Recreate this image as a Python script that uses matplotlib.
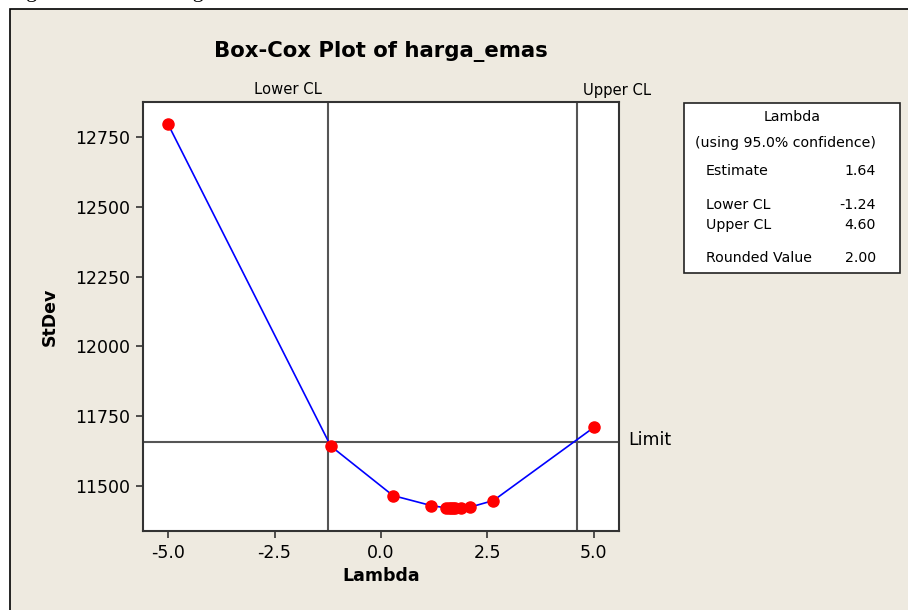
import numpy as np
import matplotlib
matplotlib.use("Agg")
import matplotlib.pyplot as plt
from matplotlib.patches import Rectangle

plt.rcParams['font.family'] = ['DejaVu Sans']

# Box-Cox search points (lambda, StDev)
lambdas = [-5.0, -1.18, 0.28, 1.18, 1.52, 1.60, 1.64, 1.68, 1.74, 1.87, 2.08, 2.64, 5.0]
stdevs = [12795, 11643, 11466, 11430, 11422, 11421, 11420, 11420, 11421, 11422, 11424, 11448, 11710]

lower_cl = -1.24
upper_cl = 4.60
limit = 11657

x_ticks = [-5.0, -2.5, 0.0, 2.5, 5.0]
y_ticks = [11500, 11750, 12000, 12250, 12500, 12750]

table_rows = [("Estimate", "1.64"), ("Lower CL", "-1.24"), ("Upper CL", "4.60"),
              ("Rounded Value", "2.00")]

W, H = 908, 610
BG = '#EEEAE0'


def fx(x):
    return x / W


def fy(y):
    return 1 - y / H


fig = plt.figure(figsize=(W / 100, H / 100), dpi=100, facecolor='white')

# outer panel of the Minitab graph window
fig.patches.append(Rectangle((fx(9.5), -0.1), 1.1, fy(8.5) + 0.1, transform=fig.transFigure,
                             facecolor=BG, edgecolor='black', lw=1.2, zorder=-2))
# cut off line of document text above the graph
fig.text(fx(-6), fy(-3), "Diagram Box-Cox harga emas.", family='Liberation Serif',
         fontsize=16, va='baseline', ha='left', zorder=-1)

ax = fig.add_axes([fx(143), fy(531), fx(619) - fx(143), fy(102) - fy(531)])
ax.set_zorder(2)
ax.set_facecolor('white')

ax.axvline(lower_cl, color='#555555', lw=1.5, zorder=1)
ax.axvline(upper_cl, color='#555555', lw=1.5, zorder=1)
ax.axhline(limit, color='#555555', lw=1.5, zorder=1)

ax.plot(lambdas, stdevs, color='#0000FF', lw=1.2, zorder=2)
ax.plot(lambdas, stdevs, 'o', color='#FF0000', markersize=8, mec='#FF0000', zorder=3)

ax.set_xlim(-5.59, 5.59)
ax.set_ylim(11339, 12875)
ax.set_xticks(x_ticks)
ax.set_xticklabels([f"{v:.1f}" for v in x_ticks])
ax.set_yticks(y_ticks)
ax.set_yticklabels([str(v) for v in y_ticks])
ax.tick_params(direction='out', length=5, width=1.2, labelsize=12.5, pad=4, color='#333333')
for s in ax.spines.values():
    s.set_linewidth(1.5)
    s.set_color('#333333')

ax.set_xlabel("Lambda", fontsize=12.5, fontweight='bold', labelpad=4)
ax.set_ylabel("StDev", fontsize=12.5, fontweight='bold', labelpad=12)

fig.text(fx(381), fy(52), "Box-Cox Plot of harga_emas", fontsize=15.3, fontweight='bold',
         ha='center', va='center')

# CL labels and limit label
fig.text(fx(322), fy(90), "Lower CL", fontsize=10.6, ha='right', va='center')
fig.text(fx(583), fy(90), "Upper CL", fontsize=10.6, ha='left', va='center')
fig.text(fx(628), fy(440), "Limit", fontsize=12.5, ha='left', va='center')

# Lambda table
fig.patches.append(Rectangle((fx(684), fy(273)), fx(900) - fx(684), fy(103) - fy(273),
                             transform=fig.transFigure, facecolor='white',
                             edgecolor='#222222', lw=1.2, zorder=1))
fig.text(fx(792), fy(117), "Lambda", fontsize=10.2, ha='center', va='center')
fig.text(fx(785), fy(143), "(using 95.0% confidence)", fontsize=10.2, ha='center', va='center')
row_y = [171, 205, 225, 258]
for (lab, val), yy in zip(table_rows, row_y):
    fig.text(fx(706), fy(yy), lab, fontsize=10.2, ha='left', va='center')
    fig.text(fx(876), fy(yy), val, fontsize=10.2, ha='right', va='center')

fig.savefig("out.png", dpi=100, facecolor=fig.get_facecolor())
